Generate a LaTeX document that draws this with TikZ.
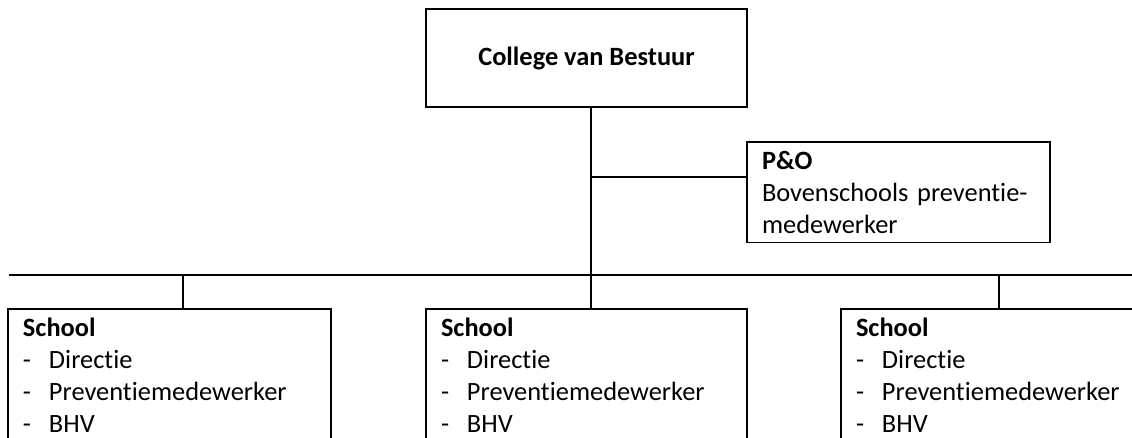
\documentclass[tikz,border=0pt]{standalone}
\usepackage{fontspec}
\setmainfont[Ligatures=NoCommon]{Carlito}
\newcommand{\listdash}[1]{\makebox[26pt][l]{-}#1}
\begin{document}
\begin{tikzpicture}[x=1pt,y=-1pt]
    \tikzstyle{every node}=[draw=black, line width=1.8pt, inner sep=0pt, outer sep=0pt, font=\fontsize{26.4}{32}\selectfont, text=black]
    \tikzstyle{box}=[anchor=north west, align=left, inner xsep=15pt, inner ysep=9pt]
    \tikzstyle{conn}=[black, line width=1.8pt]

    \useasboundingbox (0,0) rectangle (1132,437);
    \clip (0,0) rectangle (1132,437);

    \node[minimum width=321pt, minimum height=98pt, font=\fontsize{26.4}{32}\selectfont\bfseries] (cvb) at (586.5,58) {College van Bestuur};
    \node[box, text width=273pt] (po) at (747,142) {\textbf{P\&O}\\\mbox{Bovenschools preventie-}\\medewerker};

    \node[box, text width=293pt, text depth=140pt] (schoolA) at (8,309) {\textbf{School}\\\listdash{Directie}\\\listdash{Preventiemedewerker}\\\listdash{BHV}};
    \node[box, text width=291pt, text depth=140pt] (schoolB) at (426,309) {\textbf{School}\\\listdash{Directie}\\\listdash{Preventiemedewerker}\\\listdash{BHV}};
    \node[box, text width=291pt, text depth=140pt] (schoolC) at (841,309) {\textbf{School}\\\listdash{Directie}\\\listdash{Preventiemedewerker}\\\listdash{BHV}};

    \coordinate (spine) at (591,275);
    \coordinate (pojoin) at (591,177);
    \coordinate (busL) at (9,275);
    \coordinate (busR) at (1132,275);
    \coordinate (tapA) at (183,275);
    \coordinate (tapC) at (999,275);

    \draw[conn] (cvb.south -| spine) -- (spine);
    \draw[conn] (pojoin) -- (pojoin -| po.west);
    \draw[conn] (busL) -- (busR);
    \draw[conn] (tapA) -- (tapA |- schoolA.north);
    \draw[conn] (spine) -- (spine |- schoolB.north);
    \draw[conn] (tapC) -- (tapC |- schoolC.north);
\end{tikzpicture}
\end{document}
